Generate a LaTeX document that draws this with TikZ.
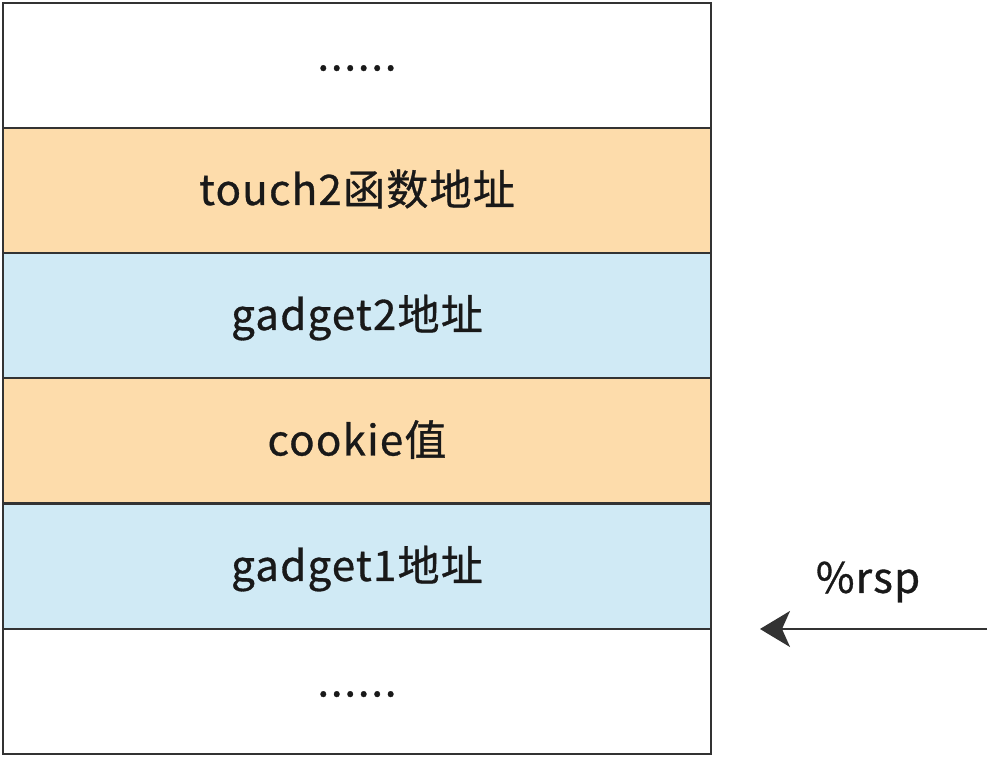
\documentclass[tikz,border=0pt]{standalone}
\usepackage{fontspec}
\newfontfamily\cjk[FakeBold=0.8,LetterSpace=3]{Noto Sans CJK SC}
\usetikzlibrary{arrows.meta}
\definecolor{cellline}{HTML}{333333}
\definecolor{orangecell}{HTML}{FDDCAB}
\definecolor{bluecell}{HTML}{D0EAF5}
\newcommand{\stackdots}{.\kern0.9pt.\kern0.9pt.\kern0.9pt.\kern0.9pt.\kern0.9pt.}
\tikzset{
  cell/.style={draw=cellline, line width=1pt, minimum width=354pt, minimum height=62.5pt,
    inner sep=0pt, font=\cjk\fontsize{21}{25}\selectfont, text=black!90,
    text height=18pt, text depth=3.5pt},
  dotcell/.style={cell, text height=6pt, text depth=1pt},
  rsparrow/.style={draw=cellline, line width=1pt, -{Stealth[length=15pt,width=18pt,inset=4pt]}}
}
\begin{document}
\begin{tikzpicture}[x=0.5pt,y=-0.5pt]
\useasboundingbox (0,0) rectangle (1008,758);
% stack cells, top to bottom
\node[dotcell, fill=white] (top) at (357,65.5) {\stackdots};
\node[cell, fill=orangecell] (touch) at (357,190.5) {touch2函数地址};
\node[cell, fill=bluecell] (gadtwo) at (357,315.5) {gadget2地址};
\node[cell, fill=orangecell] (cookie) at (357,441) {cookie值};
\node[cell, fill=bluecell] (gadone) at (357,566.5) {gadget1地址};
\node[dotcell, fill=white] (bottom) at (357,691.5) {\stackdots};

% stack pointer
\coordinate (rsp) at (987,629);
\coordinate (rsptip) at (760,629);
\draw[rsparrow] (rsp) -- (rsptip);
\node[font=\cjk\fontsize{21}{25}\selectfont, text=black!90] (rsplabel) at (868,582) {\%rsp};
\end{tikzpicture}
\end{document}
